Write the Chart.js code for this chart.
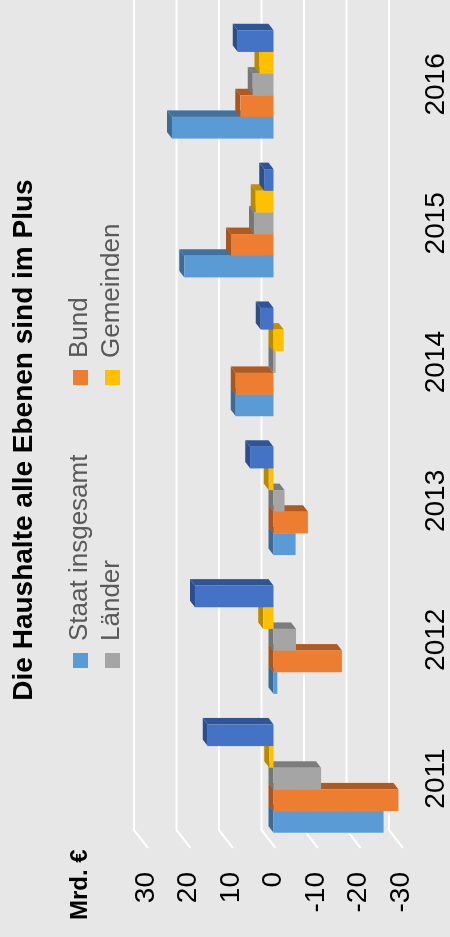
<!DOCTYPE html>
<html>
<head>
<meta charset="utf-8">
<script src="https://cdn.jsdelivr.net/npm/chart.js@4.4.1/dist/chart.umd.min.js"></script>
<style>
    html, body { margin: 0; padding: 0; background: #e7e7e7; overflow: hidden; }
    /* Diagramm wird quer gezeichnet und dann um 90° gedreht */
    #wrap {
        position: absolute; left: 0; top: 937px;
        width: 937px; height: 450px;
        transform-origin: 0 0; transform: rotate(-90deg);
    }
</style>
</head>
<body>
<div id="wrap"><canvas id="haushaltChart" width="937" height="450"></canvas></div>
<script>
// Finanzierungssalden in Mrd. €
const years = ['2011', '2012', '2013', '2014', '2015', '2016'];
const staat = [-25.9, -0.9, -5.2, 8.9, 21.0, 23.9];
const bund = [-29.4, -16.1, -8.1, 8.9, 10.0, 7.8];
const laender = [-11.2, -5.3, -2.6, -0.5, 4.6, 4.9];
const gemeinden = [1.0, 2.4, 1.1, -2.4, 4.2, 3.3];
const sozial = [15.5, 18.5, 5.5, 3.0, 2.2, 8.4];
const yTicks = [-30, -20, -10, 0, 10, 20, 30];

const FONT = '"Liberation Sans", Arial, sans-serif';

// 3D-Optik: Gitter an Rückwand + Seitenflächen der Säulen
const threeD = {
    id: 'threeD',
    beforeDatasetsDraw(chart) {
        const { ctx, chartArea: a, scales: { y } } = chart;
        ctx.save();
        ctx.strokeStyle = '#ffffff';
        ctx.lineWidth = 2;
        y.ticks.forEach(t => {
            const py = y.getPixelForValue(t.value) + 2;
            ctx.beginPath();
            ctx.moveTo(a.left, py);
            ctx.lineTo(a.left + 18, py - 14);
            ctx.lineTo(chart.width + 10, py - 14);
            ctx.stroke();
        });
        ctx.restore();
    },
    beforeDatasetDraw() {
        return false; // Säulen selbst zeichnen
    },
    afterDatasetsDraw(chart) {
        const ctx = chart.ctx;
        const dx = 6.5, dy = -5;
        ctx.save();
        chart.data.datasets.forEach((ds, i) => {
            chart.getDatasetMeta(i).data.forEach(bar => {
                const p = bar.getProps(['x', 'y', 'base', 'width'], true);
                const l = p.x - p.width / 2, r = p.x + p.width / 2;
                const top = Math.min(p.y, p.base), bot = Math.max(p.y, p.base);
                // Seite
                ctx.fillStyle = ds.sideColor;
                ctx.beginPath();
                ctx.moveTo(r, top); ctx.lineTo(r + dx, top + dy);
                ctx.lineTo(r + dx, bot + dy); ctx.lineTo(r, bot);
                ctx.closePath(); ctx.fill();
                // Deckel
                ctx.fillStyle = ds.topColor;
                ctx.beginPath();
                ctx.moveTo(l, top); ctx.lineTo(l + dx, top + dy);
                ctx.lineTo(r + dx, top + dy); ctx.lineTo(r, top);
                ctx.closePath(); ctx.fill();
                // Front
                ctx.fillStyle = ds.backgroundColor;
                ctx.fillRect(l, top, r - l, bot - top);
            });
        });
        ctx.restore();
    }
};

// Titel, Legende und Einheit
const labelsPlugin = {
    id: 'labelsPlugin',
    afterDraw(chart) {
        const ctx = chart.ctx;
        ctx.save();
        ctx.textBaseline = 'alphabetic';
        ctx.fillStyle = '#000';
        ctx.font = 'bold 28px ' + FONT;
        ctx.textAlign = 'center';
        ctx.fillText('Die Haushalte alle Ebenen sind im Plus', 497, 32);

        ctx.textAlign = 'left';
        ctx.font = 'bold 24px ' + FONT;
        ctx.fillText('Mrd. €', 17, 87);

        const cols = [269, 552];
        const rows = [87, 119];
        ctx.font = '26px ' + FONT;
        chart.data.datasets.slice(0, 4).forEach((ds, i) => {
            const x = cols[i % 2], y = rows[Math.floor(i / 2)];
            ctx.fillStyle = ds.backgroundColor;
            ctx.fillRect(x, y - 14, 15, 15);
            ctx.fillStyle = '#595959';
            ctx.fillText(ds.label, x + 27, y);
        });
        ctx.restore();
    }
};

new Chart(document.getElementById('haushaltChart'), {
    type: 'bar',
    data: {
        labels: years,
        datasets: [
            { label: 'Staat insgesamt', data: staat, backgroundColor: '#5b9bd5', sideColor: '#41719c', topColor: '#3e6b95' },
            { label: 'Bund', data: bund, backgroundColor: '#ed7d31', sideColor: '#ae5a21', topColor: '#a85620' },
            { label: 'Länder', data: laender, backgroundColor: '#a5a5a5', sideColor: '#7c7c7c', topColor: '#767676' },
            { label: 'Gemeinden', data: gemeinden, backgroundColor: '#ffc000', sideColor: '#bf9000', topColor: '#b88a00' },
            { label: 'Sozialversicherung', data: sozial, backgroundColor: '#4472c4', sideColor: '#2f5597', topColor: '#2c4f8c' }
        ]
    },
    options: {
        responsive: false,
        animation: false,
        events: [],
        layout: { padding: { top: 146, right: 15, left: 0, bottom: 0 } },
        datasets: { bar: { categoryPercentage: 0.78, barPercentage: 1.0 } },
        plugins: {
            legend: { display: false },
            title: { display: false },
            tooltip: { enabled: false }
        },
        scales: {
            x: {
                grid: { display: false, drawTicks: false },
                border: { display: false },
                ticks: { color: '#000', padding: 18, font: { size: 28, family: FONT } },
                afterFit(scale) { scale.height = 49; }
            },
            y: {
                min: yTicks[0],
                max: yTicks[yTicks.length - 1],
                grid: { display: false, drawTicks: false },
                border: { display: false },
                ticks: { stepSize: 10, color: '#000', padding: 24, font: { size: 28, family: FONT } },
                afterFit(scale) { scale.width = 89; }
            }
        }
    },
    plugins: [threeD, labelsPlugin]
});
</script>
</body>
</html>
